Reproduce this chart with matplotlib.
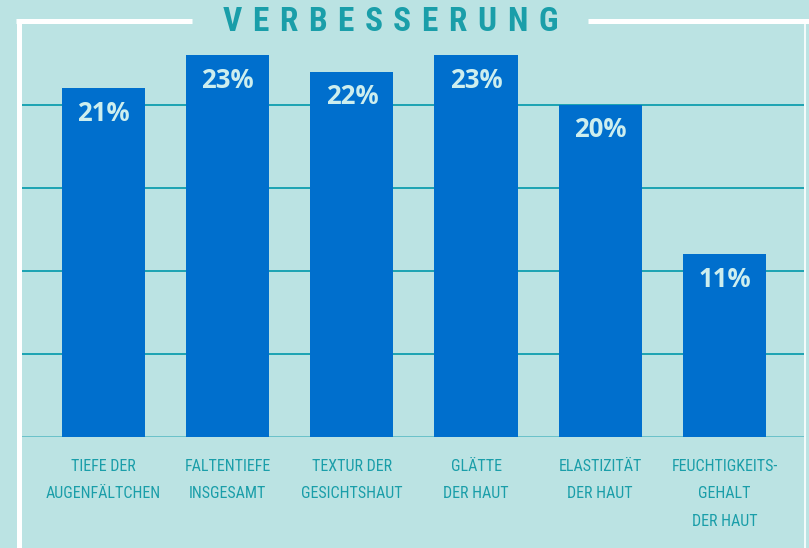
import matplotlib
matplotlib.use("Agg")
import numpy as np
import matplotlib.pyplot as plt
from matplotlib.lines import Line2D

categories = ["TIEFE DER\nAUGENFÄLTCHEN", "FALTENTIEFE\nINSGESAMT", "TEXTUR DER\nGESICHTSHAUT",
              "GLÄTTE\nDER HAUT", "ELASTIZITÄT\nDER HAUT", "FEUCHTIGKEITS-\nGEHALT\nDER HAUT"]
values = [21, 23, 22, 23, 20, 11]
labels = ["21%", "23%", "22%", "23%", "20%", "11%"]
gridlines = [5, 10, 15, 20]
title = "VERBESSERUNG"

BG = "#bbe3e3"
BAR = "#006fcd"
TEAL = "#1a9ea9"
GRID = "#1ba3b2"
LABEL = "#cdeeee"

W, H = 809, 548
fig = plt.figure(figsize=(W / 100, H / 100), dpi=100, facecolor=BG)

# axes placed in pixel terms: baseline at y=437, 16.6 px per percent
ax = fig.add_axes([21 / W, (H - 437) / H, (804 - 21) / W, 25 * 16.6 / H])
ax.set_facecolor(BG)
x = np.arange(len(values))
ax.set_xlim(-0.664, 5.64)
ax.set_ylim(0, 25)
for g in gridlines:
    ax.axhline(g, color=GRID, lw=1.4, zorder=1)
ax.axhline(0, color="#62bfc7", lw=2, zorder=1)
ax.bar(x, values, width=0.67, color=BAR, zorder=2)
for xi, v, lab in zip(x, values, labels):
    ax.text(xi, v - 1.5, lab, ha="center", va="center", color=LABEL,
            fontsize=18.5, fontweight="bold", family=["Open Sans", "DejaVu Sans"], zorder=3)
narrow = ["Roboto Condensed", "Liberation Sans Narrow", "Roboto", "DejaVu Sans"]
for xi, cat in zip(x, categories):
    ax.text(xi, -1.3, cat, ha="center", va="top", color=TEAL, fontsize=11.5,
            family=narrow, linespacing=2.05, clip_on=False)
for s in ax.spines.values():
    s.set_visible(False)
ax.set_xticks([])
ax.set_yticks([])

# white frame
def px_line(xs, ys, lw):
    fig.add_artist(Line2D([v / W for v in xs], [1 - v / H for v in ys],
                          color="white", lw=lw, solid_capstyle="butt"))

px_line([18.5, 18.5], [19, H], 3.6)
px_line([16, 192], [21, 21], 3.6)
px_line([588, 809], [21, 21], 3.6)
px_line([805, 805], [21, H], 1.2)

# letter-spaced title
fig.canvas.draw()
r = fig.canvas.get_renderer()
kw = dict(fontsize=24, fontweight="bold", color=TEAL, family=narrow,
          va="center", ha="left")
widths = []
for ch in title:
    t = fig.text(0, 0, ch, **kw)
    widths.append(t.get_window_extent(r).width)
    t.remove()
target = 335
track = (target - sum(widths)) / (len(title) - 1)
xpos = 390 - target / 2
for ch, w in zip(title, widths):
    fig.text(xpos / W, 1 - 22 / H, ch, **kw)
    xpos += w + track

fig.savefig("out.png", dpi=100, facecolor=BG)
